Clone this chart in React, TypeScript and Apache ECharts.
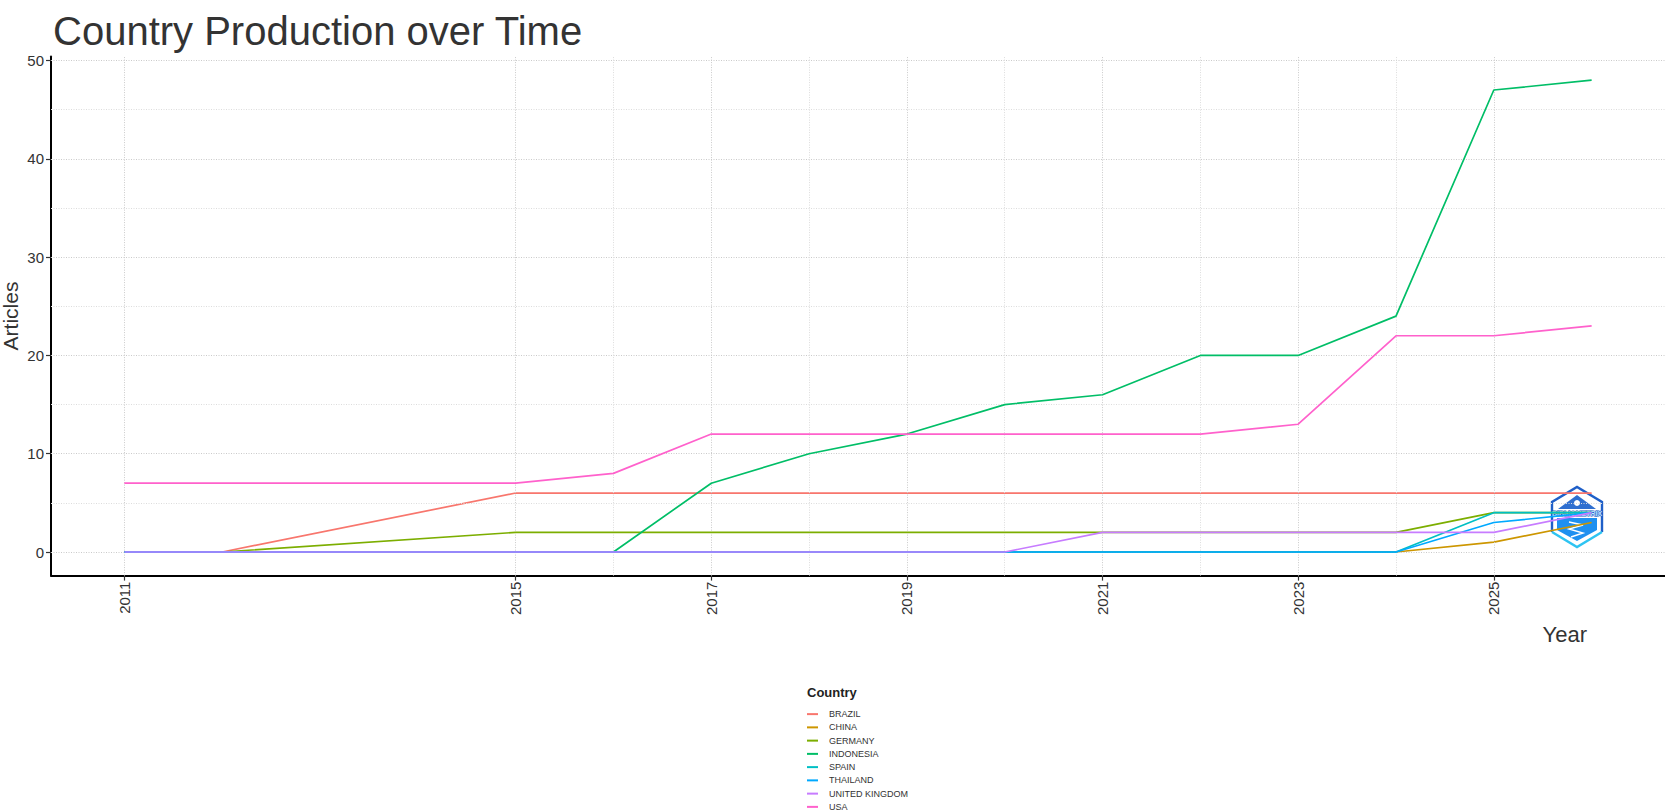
import React, { useEffect, useRef } from "react";
import * as echarts from "echarts";

const FONT = "'Liberation Sans', Arial, Helvetica, sans-serif";

const years = [2011, 2012, 2015, 2016, 2017, 2018, 2019, 2020, 2021, 2022, 2023, 2024, 2025, 2026];
const countries = ["BRAZIL", "CHINA", "GERMANY", "INDONESIA", "SPAIN", "THAILAND", "UNITED KINGDOM", "USA"];
const colors = ["#F8766D", "#CD9600", "#7CAE00", "#00BE67", "#00BFC4", "#00A9FF", "#C77CFF", "#FF61CC"];

const brazil = [0, 0, 6, 6, 6, 6, 6, 6, 6, 6, 6, 6, 6, 6];
const china = [0, 0, 0, 0, 0, 0, 0, 0, 0, 0, 0, 0, 1, 3];
const germany = [0, 0, 2, 2, 2, 2, 2, 2, 2, 2, 2, 2, 4, 4];
const indonesia = [0, 0, 0, 0, 7, 10, 12, 15, 16, 20, 20, 24, 47, 48];
const spain = [0, 0, 0, 0, 0, 0, 0, 0, 0, 0, 0, 0, 4, 4];
const thailand = [0, 0, 0, 0, 0, 0, 0, 0, 0, 0, 0, 0, 3, 4];
const unitedKingdom = [0, 0, 0, 0, 0, 0, 0, 0, 2, 2, 2, 2, 2, 4];
const usa = [7, 7, 7, 8, 12, 12, 12, 12, 12, 12, 13, 22, 22, 23];

const seriesValues = [brazil, china, germany, indonesia, spain, thailand, unitedKingdom, usa];

const xTickYears = [2011, 2015, 2017, 2019, 2021, 2023, 2025];
const xMinorGrid = [2016, 2018, 2020, 2022, 2024];
const yTickValues = [0, 10, 20, 30, 40, 50];
const yMinorGrid = [5, 15, 25, 35, 45];

export default function App() {
  const ref = useRef<HTMLDivElement>(null);

  useEffect(() => {
    document.body.style.margin = "0";
    if (!ref.current) return;
    const chart = echarts.init(ref.current, null, { renderer: "svg" });

    const majorStyle = { type: [1, 1.5], color: "#cacaca", width: 1 };
    const minorStyle = { type: [1, 1.5], color: "#dcdcdc", width: 1 };

    const gridLines: any[] = [
      ...yTickValues.map((v) => ({ yAxis: v, lineStyle: majorStyle })),
      ...yMinorGrid.map((v) => ({ yAxis: v, lineStyle: minorStyle })),
      ...xTickYears.map((v) => ({ xAxis: v, lineStyle: majorStyle })),
      ...xMinorGrid.map((v) => ({ xAxis: v, lineStyle: minorStyle })),
    ];

    const lineSeries = countries.map((name, i) => ({
      name,
      type: "line",
      data: years.map((y, j) => [y, seriesValues[i][j]]),
      showSymbol: false,
      symbol: "none",
      color: colors[i],
      lineStyle: { color: colors[i], width: 1.7 },
      itemStyle: { color: colors[i] },
      z: 3 + i,
      silent: true,
    }));

    // logo geometry (decoration)
    const cx = 1577;
    const cy = 517;
    const hw = 25;
    const hh = 30;
    const hex = [
      [cx, cy - hh],
      [cx + hw, cy - hh / 2],
      [cx + hw, cy + hh / 2],
      [cx, cy + hh],
      [cx - hw, cy + hh / 2],
      [cx - hw, cy - hh / 2],
    ];

    chart.setOption({
      animation: false,
      backgroundColor: "#ffffff",
      grid: {
        left: 51,
        right: 0,
        top: 56.6,
        bottom: 811 - 575.6,
        containLabel: false,
        outerBoundsMode: "none",
      },
      xAxis: {
        type: "value",
        min: 2010.25,
        max: 2026.75,
        axisLine: { show: true, onZero: false, lineStyle: { color: "#000", width: 2 } },
        axisTick: { show: true, customValues: xTickYears, length: 5, lineStyle: { color: "#333", width: 1.2 } },
        axisLabel: {
          customValues: xTickYears,
          rotate: 90,
          fontSize: 15,
          color: "#333",
          margin: 6,
          fontFamily: FONT,
          formatter: (v: number) => String(v),
        },
        splitLine: { show: false },
      },
      yAxis: {
        type: "value",
        min: -2.4,
        max: 50.4,
        axisLine: { show: true, onZero: false, lineStyle: { color: "#000", width: 2 } },
        axisTick: { show: true, customValues: yTickValues, length: 5, lineStyle: { color: "#333", width: 1.2 } },
        axisLabel: {
          customValues: yTickValues,
          fontSize: 15,
          color: "#333",
          margin: 7,
          fontFamily: FONT,
          formatter: (v: number) => String(v),
        },
        splitLine: { show: false },
      },
      legend: {
        orient: "vertical",
        left: 807,
        top: 707.5,
        height: 130,
        padding: 0,
        itemWidth: 11,
        itemHeight: 2,
        itemGap: 0,
        icon: "rect",
        selectedMode: false,
        data: countries,
        textStyle: { fontSize: 9, color: "#333", lineHeight: 13.25, fontFamily: FONT, padding: [0, 0, 0, 6] },
      },
      series: [
        {
          name: "grid",
          type: "line",
          data: [[2011, 0]],
          showSymbol: false,
          symbol: "none",
          lineStyle: { width: 0, opacity: 0 },
          silent: true,
          z: 1,
          markLine: {
            silent: true,
            symbol: ["none", "none"],
            label: { show: false },
            animation: false,
            data: gridLines,
          },
        },
        ...lineSeries,
      ],
      graphic: [
        {
          type: "text",
          x: 53,
          y: 31,
          style: {
            text: "Country Production over Time",
            fontSize: 40,
            fontFamily: FONT,
            fill: "#333",
            align: "left",
            verticalAlign: "middle",
          },
        },
        {
          type: "text",
          x: 10,
          y: 316,
          rotation: Math.PI / 2,
          style: {
            text: "Articles",
            fontSize: 21,
            fontFamily: FONT,
            fill: "#333",
            align: "center",
            verticalAlign: "middle",
          },
        },
        {
          type: "text",
          x: 1587,
          y: 634,
          style: {
            text: "Year",
            fontSize: 22,
            fontFamily: FONT,
            fill: "#333",
            align: "right",
            verticalAlign: "middle",
          },
        },
        {
          type: "text",
          x: 807,
          y: 692.5,
          style: {
            text: "Country",
            fontSize: 13,
            fontWeight: "bold",
            fontFamily: FONT,
            fill: "#222",
            align: "left",
            verticalAlign: "middle",
          },
        },
        {
          type: "group",
          z: 100,
          children: [
            {
              type: "polygon",
              shape: { points: hex },
              style: { fill: "rgba(255,255,255,0.85)", stroke: "none" },
            },
            {
              type: "polyline",
              shape: { points: [hex[4], hex[5], hex[0], hex[1], hex[2]] },
              style: { stroke: "#1f5fc8", lineWidth: 2.4, fill: "none" },
            },
            {
              type: "polyline",
              shape: { points: [hex[2], hex[3], hex[4]] },
              style: { stroke: "#2ec4f2", lineWidth: 2.4, fill: "none" },
            },
            {
              type: "polygon",
              shape: {
                points: [
                  [cx - 19, cy - 8],
                  [cx, cy - 22],
                  [cx + 19, cy - 8],
                ],
              },
              style: { fill: "#2f6fd0" },
            },
            {
              type: "circle",
              shape: { cx: cx, cy: cy - 14, r: 3 },
              style: { fill: "#ffffff" },
            },
            {
              type: "polygon",
              shape: {
                points: [
                  [cx - 20, cy + 1],
                  [cx + 20, cy + 1],
                  [cx + 20, cy + 13],
                  [cx, cy + 24],
                  [cx - 20, cy + 13],
                ],
              },
              style: { fill: "#1e90f0" },
            },
            {
              type: "polyline",
              shape: { points: [[cx - 8, cy + 5], [cx + 6, cy + 8], [cx - 8, cy + 12], [cx + 6, cy + 16], [cx - 6, cy + 20]] },
              style: { stroke: "#ffffff", lineWidth: 1.4, fill: "none" },
            },
            {
              type: "text",
              x: cx,
              y: cy - 4,
              style: {
                text: "BIBLIOMETRIX",
                fontSize: 7,
                fontWeight: "bold",
                fontFamily: FONT,
                fill: "#bfe3ff",
                stroke: "#1f5fc8",
                lineWidth: 1.2,
                align: "center",
                verticalAlign: "middle",
              },
            },
          ],
        },
      ],
    });

    return () => chart.dispose();
  }, []);

  return (
    <div
      ref={ref}
      style={{ position: "fixed", left: 0, top: 0, width: 1665, height: 811, background: "#fff" }}
    />
  );
}
